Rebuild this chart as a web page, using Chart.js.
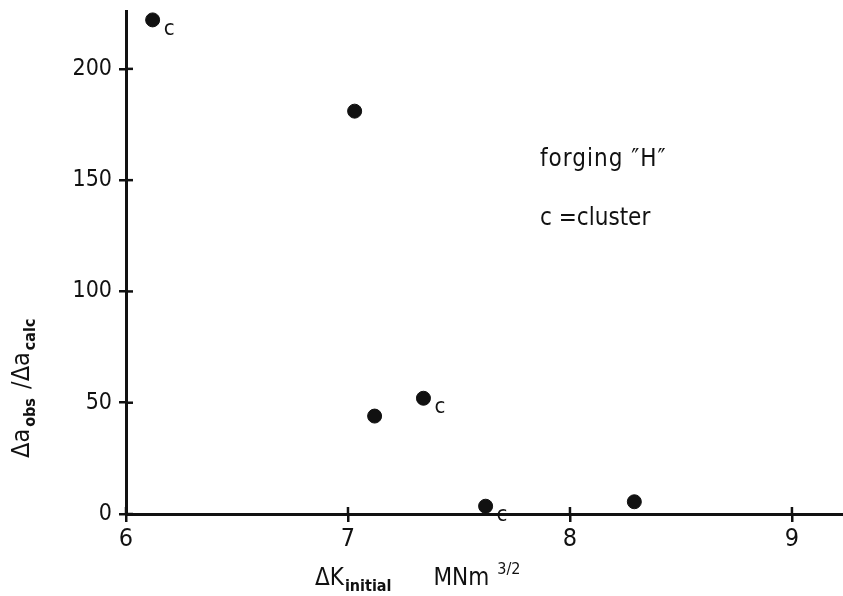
<!DOCTYPE html>
<html>
<head>
<meta charset="utf-8">
<script src="https://cdn.jsdelivr.net/npm/chart.js@4.4.1/dist/chart.umd.min.js"></script>
<style>
  html, body { margin: 0; padding: 0; background: #fff; overflow: hidden; }
  #wrap { width: 843px; height: 596px; }
  canvas { display: block; }
</style>
</head>
<body>
<div id="wrap"><canvas id="chart"></canvas></div>
<script>
const INK = '#111'
const FONT = "'Liberation Sans Narrow', 'DejaVu Sans Condensed', 'Roboto Condensed', sans-serif"

// data
const kInitial = [6.12, 7.03, 7.12, 7.34, 7.62, 8.29]
const growthRatio = [222, 181, 44, 52, 3.5, 5.5]
const isCluster = [true, false, false, true, true, false]
const xTicks = [6, 7, 8, 9]
const yTicks = [0, 50, 100, 150, 200]

const points = kInitial.map((x, i) => ({ x, y: growthRatio[i] }))

// draws tick marks inside the axes, the "c" labels, axis titles and the note
const decorations = {
  id: 'decorations',
  afterDraw(chart) {
    const { ctx, scales: { x, y } } = chart
    ctx.save()
    ctx.strokeStyle = INK
    ctx.lineWidth = 2.5
    xTicks.forEach((v) => {
      const px = x.getPixelForValue(v)
      ctx.beginPath(); ctx.moveTo(px, y.bottom); ctx.lineTo(px, y.bottom - 7); ctx.stroke()
    })
    yTicks.forEach((v) => {
      const py = y.getPixelForValue(v)
      ctx.beginPath(); ctx.moveTo(x.left, py); ctx.lineTo(x.left + 7, py); ctx.stroke()
    })

    ctx.fillStyle = INK
    ctx.textBaseline = 'alphabetic'
    ctx.textAlign = 'left'

    // cluster markers
    const meta = chart.getDatasetMeta(0)
    ctx.font = '22px ' + FONT
    meta.data.forEach((pt, i) => {
      if (isCluster[i]) ctx.fillText('c', pt.x + 11, pt.y + 15)
    })

    // note
    ctx.font = '24px ' + FONT
    ctx.letterSpacing = '1px'
    ctx.fillText('forging \u2033H\u2033', 540, 166)
    ctx.letterSpacing = '0px'
    ctx.fillText('c =cluster', 540, 225)

    // x title
    let cx = 315
    const base = 585
    ctx.font = '24px ' + FONT
    ctx.fillText('\u0394K', cx, base); cx += ctx.measureText('\u0394K').width + 1
    ctx.font = 'bold 16px ' + FONT
    ctx.fillText('initial', cx, base + 6); cx += ctx.measureText('initial').width + 42
    ctx.font = '24px ' + FONT
    ctx.fillText('MNm', cx, base); cx += ctx.measureText('MNm').width + 8
    ctx.font = '16px ' + FONT
    ctx.fillText('3/2', cx, base - 11)

    // y title, rotated
    ctx.translate(29, 458)
    ctx.rotate(-Math.PI / 2)
    let ty = 0
    const parts = [
      ['\u0394a', '25px', 0],
      ['obs', 'bold 16px', 6],
      [' /\u0394a', '25px', 0],
      ['calc', 'bold 16px', 6],
    ]
    parts.forEach(([t, f, dy]) => {
      ctx.font = f + ' ' + FONT
      ctx.fillText(t, ty, dy)
      ty += ctx.measureText(t).width + 2
    })
    ctx.restore()
  },
}

new Chart(document.getElementById('chart'), {
  type: 'scatter',
  data: {
    datasets: [
      {
        data: points,
        backgroundColor: INK,
        borderColor: INK,
        pointRadius: 7,
        pointHoverRadius: 7,
      },
    ],
  },
  options: {
    responsive: true,
    maintainAspectRatio: false,
    animation: false,
    events: [],
    layout: { autoPadding: false, padding: { top: 11, right: 0, left: 0, bottom: 0 } },
    plugins: { legend: { display: false }, tooltip: { enabled: false } },
    scales: {
      x: {
        type: 'linear',
        min: 6,
        max: 9.23,
        afterBuildTicks: (s) => { s.ticks = xTicks.map((v) => ({ value: v })) },
        afterFit: (s) => { s.height = 82; s.paddingRight = 0; s.paddingLeft = 0 },
        grid: { drawOnChartArea: false, color: INK, lineWidth: 2.5, tickLength: 8 },
        border: { color: INK, width: 3 },
        ticks: { color: INK, padding: 2, font: { family: FONT, size: 25 } },
      },
      y: {
        min: 0,
        max: 226,
        afterBuildTicks: (s) => { s.ticks = yTicks.map((v) => ({ value: v })) },
        afterFit: (s) => { s.width = 126; s.paddingTop = 0; s.paddingBottom = 0 },
        grid: { drawOnChartArea: false, color: INK, lineWidth: 2.5, tickLength: 7 },
        border: { color: INK, width: 3 },
        ticks: { color: INK, padding: 7, font: { family: FONT, size: 23 } },
      },
    },
  },
  plugins: [decorations],
})
</script>
</body>
</html>
